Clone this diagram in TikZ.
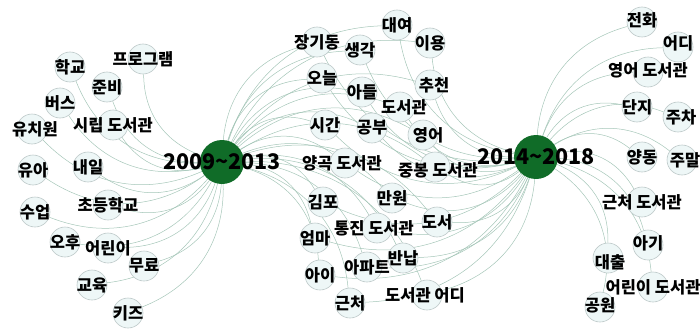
\documentclass[tikz,border=0pt]{standalone}
\usepackage{fontspec}
\setmainfont{Noto Sans CJK KR}
\usetikzlibrary{backgrounds}

\definecolor{hubgreen}{RGB}{16,108,40}
\definecolor{nodefill}{RGB}{238,247,247}
\definecolor{nodeline}{RGB}{188,200,200}
\definecolor{linkgreen}{RGB}{165,198,184}

\begin{document}
\begin{tikzpicture}[x=1pt,y=-1pt,
  kw/.style={circle,draw=nodeline,line width=0.6pt,fill=nodefill,minimum size=30pt,inner sep=0pt},
  kwtext/.style={font=\bfseries\fontsize{16.5}{16.5}\selectfont,inner sep=0pt,text opacity=1},
  hub/.style={circle,fill=hubgreen,minimum size=44pt,inner sep=0pt},
  hubtext/.style={font=\bfseries\fontsize{21.5}{21.5}\selectfont,inner sep=0pt},
  link/.style={draw=linkgreen,line width=0.5pt,bend left=35}]
\useasboundingbox (0,0) rectangle (700,329);

% period hubs
\node[hub] (old) at (222,162) {};
\node[hub] (new) at (536,157) {};

% keywords 2009~2013
\node[kw,label={[kwtext]center:학교}] (school) at (70,67) {};
\node[kw,label={[kwtext]center:프로그램}] (program) at (143,59) {};
\node[kw,label={[kwtext]center:준비}] (prepare) at (107,87) {};
\node[kw,label={[kwtext]center:버스}] (bus) at (60,103) {};
\node[kw,label={[kwtext,xshift=3pt]center:유치원}] (kinder) at (32,129) {};
\node[kw,label={[kwtext]center:시립 도서관}] (citylib) at (113,125) {};
\node[kw,label={[kwtext]center:유아}] (infant) at (33,170) {};
\node[kw,label={[kwtext]center:내일}] (tomorrow) at (88,167) {};
\node[kw,label={[kwtext]center:초등학교}] (elem) at (108,205) {};
\node[kw,label={[kwtext]center:수업}] (lesson) at (35,212) {};
\node[kw,label={[kwtext]center:오후}] (afternoon) at (65,242) {};
\node[kw,label={[kwtext]center:어린이}] (child) at (108,248) {};
\node[kw,label={[kwtext]center:무료}] (free) at (144,266) {};
\node[kw,label={[kwtext]center:교육}] (edu) at (92,285) {};
\node[kw,label={[kwtext]center:키즈}] (kids) at (128,313) {};

% keywords shared by both periods
\node[kw,label={[kwtext]center:장기동}] (jangi) at (317,42) {};
\node[kw,label={[kwtext]center:대여}] (rent) at (397,25) {};
\node[kw,label={[kwtext]center:생각}] (thought) at (360,50) {};
\node[kw,label={[kwtext]center:이용}] (use) at (430,43) {};
\node[kw,label={[kwtext]center:오늘}] (today) at (322,78) {};
\node[kw,label={[kwtext]center:아들}] (son) at (362,92) {};
\node[kw,label={[kwtext,xshift=4pt]center:추천}] (recommend) at (430,85) {};
\node[kw,label={[kwtext,xshift=4pt]center:도서관}] (library) at (400,107) {};
\node[kw,label={[kwtext]center:시간}] (time) at (325,125) {};
\node[kw,label={[kwtext]center:공부}] (study) at (372,128) {};
\node[kw,label={[kwtext,xshift=5pt]center:영어}] (english) at (423,135) {};
\node[kw,label={[kwtext,xshift=-3pt]center:양곡 도서관}] (yanggok) at (345,163) {};
\node[kw,label={[kwtext,xshift=3pt,yshift=-3pt]center:중봉 도서관}] (jungbong) at (435,167) {};
\node[kw,label={[kwtext]center:김포}] (gimpo) at (323,202) {};
\node[kw,label={[kwtext]center:만원}] (manwon) at (392,198) {};
\node[kw,label={[kwtext,xshift=-3pt]center:통진 도서관}] (tongjin) at (377,228) {};
\node[kw,label={[kwtext]center:도서}] (books) at (437,222) {};
\node[kw,label={[kwtext]center:엄마}] (mom) at (315,238) {};
\node[kw,label={[kwtext]center:반납}] (returnbook) at (403,258) {};
\node[kw,label={[kwtext]center:아이}] (kid) at (320,275) {};
\node[kw,label={[kwtext]center:아파트}] (apt) at (367,267) {};
\node[kw,label={[kwtext]center:근처}] (near) at (350,303) {};
\node[kw,label={[kwtext,xshift=-2pt]center:도서관 어디}] (wherelib) at (427,295) {};

% keywords 2014~2018
\node[kw,label={[kwtext,yshift=2pt]center:전화}] (phone) at (642,22) {};
\node[kw,label={[kwtext,yshift=4pt]center:어디}] (where) at (678,47) {};
\node[kw,label={[kwtext,yshift=2pt]center:영어 도서관}] (englib) at (648,72) {};
\node[kw,label={[kwtext]center:단지}] (complex) at (637,107) {};
\node[kw,label={[kwtext,xshift=3pt]center:주차}] (parking) at (678,117) {};
\node[kw,label={[kwtext]center:양동}] (yangdong) at (642,157) {};
\node[kw,label={[kwtext,xshift=3pt]center:주말}] (weekend) at (682,160) {};
\node[kw,label={[kwtext]center:근처 도서관}] (nearlib) at (642,202) {};
\node[kw,label={[kwtext,yshift=2pt]center:아기}] (baby) at (648,245) {};
\node[kw,label={[kwtext,xshift=2pt,yshift=-4pt]center:대출}] (loan) at (608,258) {};
\node[kw,label={[kwtext]center:어린이 도서관}] (childlib) at (653,287) {};
\node[kw,label={[kwtext,yshift=2pt]center:공원}] (park) at (600,307) {};

% hub labels on top
\node[hubtext] at (old) {2009\textasciitilde 2013};
\node[hubtext] at (new) {2014\textasciitilde 2018};

\begin{scope}[on background layer]
\foreach \n in {school,program,prepare,bus,kinder,citylib,infant,tomorrow,elem,
  lesson,afternoon,child,free,edu,kids}
  \draw[link] (old) to (\n);
\foreach \n in {jangi,rent,thought,use,today,son,recommend,library,time,study,
  english,yanggok,jungbong,gimpo,manwon,tongjin,books,mom,returnbook,kid,apt,
  near,wherelib}
  {\draw[link] (old) to (\n);
   \draw[link] (new) to (\n);}
\foreach \n in {phone,where,englib,complex,parking,yangdong,weekend,nearlib,
  baby,loan,childlib,park}
  \draw[link] (new) to (\n);
\end{scope}
\end{tikzpicture}
\end{document}
